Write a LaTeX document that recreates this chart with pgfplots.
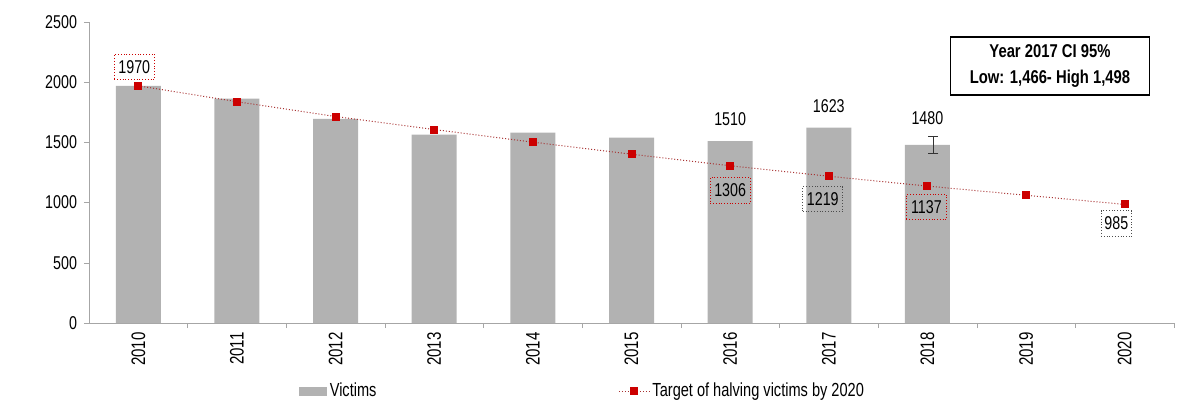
\documentclass[border=0pt]{standalone}
\usepackage{fontspec}
\setmainfont{Liberation Sans}
\newfontfamily\narrow{Liberation Sans}[FakeStretch=0.77]
\newfontfamily\narrowb{Liberation Sans}[FakeStretch=0.8]
\usepackage{pgfplots}
\pgfplotsset{compat=1.18}
\definecolor{barGray}{HTML}{B2B2B2}
\definecolor{tRed}{HTML}{CC0000}
\definecolor{lineRed}{HTML}{A83232}
\definecolor{axGray}{HTML}{A6A6A6}
\begin{document}
\begin{tikzpicture}
\useasboundingbox (-44.5bp,-39bp) rectangle (544.5bp,161.5bp);
\begin{axis}[
  at={(0,0)}, anchor=south west,
  scale only axis, width=542.5bp, height=150.5bp,
  xmin=-0.5, xmax=10.5, ymin=0, ymax=2500,
  axis x line=bottom, axis y line=left,
  axis line style={draw=axGray, -},
  tick align=outside,
  major tick length=2.5bp,
  tick style={draw=axGray},
  ytick={0,500,...,2500},
  xtick={0,...,10},
  xticklabels={2010,2011,2012,2013,2014,2015,2016,2017,2018,2019,2020},
  major x tick style={draw=none},
  extra x ticks={0.5,1.5,...,10.5},
  extra x tick labels={},
  extra x tick style={major x tick style={draw=axGray}},
  xticklabel style={yshift=-2bp, rotate=90, anchor=east, inner sep=0pt, font=\narrow\fontsize{9.8}{11}\selectfont},
  yticklabel style={font=\narrow\fontsize{9.3}{11}\selectfont},
  /pgf/number format/assume math mode=true,
  scaled y ticks=false,
  yticklabel={\pgfmathprintnumber[fixed,1000 sep={}]{\tick}},
  legend columns=2,
  legend style={at={(0.193,-0.227)}, anchor=west, draw=none, fill=none,
    inner sep=0pt, font=\narrow\fontsize{9.5}{11}\selectfont,
    nodes={inner sep=1.5bp},
    /tikz/every even column/.append style={column sep=119.5bp}},
  clip=false,
]
\addplot[ybar, bar width=22.5bp, fill=barGray, draw=none,
  legend image code/.code={\fill[barGray] (0bp,-2.35bp) rectangle (14bp,2.35bp);}]
  coordinates {(0,1970) (1,1864) (2,1696) (3,1565) (4,1582) (5,1540) (6,1510) (7,1623) (8,1480)};
\addlegendentry{Victims}
\addplot[lineRed, densely dotted, line width=0.5pt, mark=square*, mark size=1.75bp,
  mark options={solid, fill=tRed, draw=tRed},
  legend image code/.code={\draw[mark repeat=2,mark phase=2] plot coordinates {(0bp,0bp) (7.5bp,0bp) (15bp,0bp)};}]
  coordinates {(0,1970) (1,1838) (2,1715) (3,1607) (4,1502) (5,1402) (6,1306) (7,1219) (8,1137) (9,1061) (10,985)};
\addlegendentry{Target of halving victims by 2020}
% error bar 2018
\addplot[forget plot, draw=none, mark=none,
  error bars/.cd, y dir=both, y explicit,
  error bar style={black!80, line width=0.5pt},
  error mark options={black!80, mark size=2.5bp, rotate=90, line width=0.5pt}]
  coordinates {(8.06,1477) +- (0,72)};
% labels above bars
\addplot[forget plot, draw=none, mark=none, point meta=explicit symbolic, nodes near coords,
  every node near coord/.style={anchor=south, yshift=7.5bp, inner sep=0pt, text=black, font=\narrow\fontsize{9.3}{11}\selectfont}]
  coordinates {(6,1510)[1510] (7,1623)[1623]};
\addplot[forget plot, draw=none, mark=none, point meta=explicit symbolic, nodes near coords,
  every node near coord/.style={anchor=south, yshift=9.7bp, inner sep=0pt, text=black, font=\narrow\fontsize{9.3}{11}\selectfont}]
  coordinates {(8,1480)[1480]};
% boxed target labels
\addplot[forget plot, draw=none, mark=none, point meta=explicit symbolic, nodes near coords,
  every node near coord/.style={anchor=south, yshift=3bp, xshift=-2bp, draw=tRed, densely dotted, thin,
    minimum width=20bp, minimum height=12.5bp, inner sep=0pt, text=black, font=\narrow\fontsize{9.3}{11}\selectfont}]
  coordinates {(0,1970)[1970]};
\addplot[forget plot, draw=none, mark=none, point meta=explicit symbolic, nodes near coords,
  every node near coord/.style={anchor=north, yshift=-5.8bp, draw=tRed, densely dotted, thin,
    minimum width=20bp, minimum height=12.7bp, inner sep=0pt, text=black, font=\narrow\fontsize{9.3}{11}\selectfont}]
  coordinates {(6,1306)[1306]};
\addplot[forget plot, draw=none, mark=none, point meta=explicit symbolic, nodes near coords,
  every node near coord/.style={anchor=north, yshift=-4bp, xshift=-0.5bp, draw=tRed, densely dotted, thin,
    minimum width=20bp, minimum height=12.5bp, inner sep=0pt, text=black, font=\narrow\fontsize{9.3}{11}\selectfont}]
  coordinates {(8,1137)[1137]};
\addplot[forget plot, draw=none, mark=none, point meta=explicit symbolic, nodes near coords,
  every node near coord/.style={anchor=north, yshift=-5bp, xshift=-3bp, draw=black!70, densely dotted, thin,
    minimum width=20bp, minimum height=12.3bp, inner sep=0pt, text=black, font=\narrow\fontsize{9.3}{11}\selectfont}]
  coordinates {(7,1219)[1219]};
\addplot[forget plot, draw=none, mark=none, point meta=explicit symbolic, nodes near coords,
  every node near coord/.style={anchor=north, yshift=-3bp, xshift=-4.2bp, draw=black!70, densely dotted, thin,
    minimum width=15.3bp, minimum height=12.8bp, inner sep=0pt, text=black, font=\narrow\fontsize{9.3}{11}\selectfont}]
  coordinates {(10,985)[985]};
\node[draw=black, line width=0.6pt, minimum width=99.5bp, minimum height=29bp, align=center,
  inner sep=0pt, font=\narrowb\bfseries\fontsize{9.3}{13}\selectfont]
  at (axis cs:9.243,2135) {Year 2017 CI 95\%\\Low: 1,466- High 1,498};
\end{axis}
\end{tikzpicture}
\end{document}
